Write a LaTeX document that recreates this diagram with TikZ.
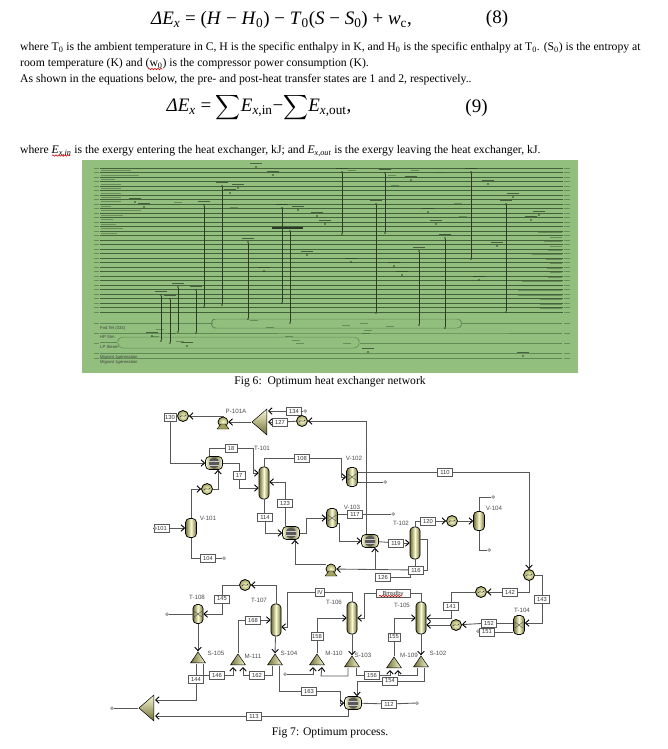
\documentclass[tikz,border=0pt]{standalone}
\usepackage{amsmath}
\usepackage{fontspec}
\setmainfont{Liberation Serif}
\newfontfamily\flowfont{Liberation Sans}
\usepackage{tikz}
\usetikzlibrary{calc,positioning,arrows.meta,shapes.geometric,decorations.pathmorphing}
\definecolor{panelgreen}{HTML}{93BF7E}
\definecolor{rowgreen}{HTML}{35502F}
\definecolor{bundlegreen}{HTML}{5E8A55}
\definecolor{linkdark}{HTML}{2C3A28}
\definecolor{flowgray}{HTML}{585858}
\definecolor{olivedark}{HTML}{6F6F35}
\definecolor{olivemid}{HTML}{A3A35C}
\definecolor{olivepale}{HTML}{FBFBD6}
\tikzset{
	bodytext/.style={anchor=west,inner sep=0pt,font=\fontsize{11.7}{13}\selectfont},
	eqtext/.style={inner sep=0pt,font=\fontsize{19}{21}\selectfont},
	caption/.style={inner sep=0pt,font=\fontsize{11.6}{13}\selectfont},
	squiggle/.style={red!85!black,line width=.6pt,decorate,decoration={snake,amplitude=.7pt,segment length=3pt}},
	rowline/.style={rowgreen,line width=.55pt,opacity=.85},
	bundle/.style={bundlegreen,line width=.5pt,rounded corners=3pt},
	hxlink/.style={linkdark,line width=.75pt},
	hxdot/.style={circle,fill=linkdark,inner sep=0pt,minimum size=1.8pt},
	tagmark/.style={linkdark,line width=1pt,opacity=.7},
	faintmark/.style={rowgreen,line width=1pt,opacity=.45},
	nettext/.style={inner sep=0pt,anchor=west,text=black!75,font=\flowfont\fontsize{4.2}{5}\selectfont},
	flowline/.style={flowgray,line width=.85pt},
	flow/.style={flowline,-{Straight Barb[length=3.5pt,width=6.5pt,line width=.9pt,black]}},
	streambox/.style={draw=flowgray,fill=white,line width=.7pt,inner sep=0pt,minimum width=15pt,minimum height=8pt,text=black!80,font=\flowfont\fontsize{5.8}{6}\selectfont},
	unitname/.style={inner sep=0pt,text=black!70,font=\flowfont\fontsize{6.2}{7}\selectfont},
	streamend/.style={diamond,draw=flowgray,fill=white,line width=.5pt,inner sep=0pt,minimum size=3pt},
	column/.style={rectangle,rounded corners=4pt,draw=black,line width=.7pt,left color=olivedark,right color=olivedark,middle color=olivepale,minimum width=10pt,minimum height=32pt,inner sep=0pt},
	drum/.style={column,minimum width=11pt,minimum height=19pt},
	crossdrum/.style={column,minimum width=11pt,minimum height=19pt,path picture={
		\draw[black!70,line width=.4pt] ($(path picture bounding box.center)+(-4,-3)$) -- ($(path picture bounding box.center)+(4,3)$);
		\draw[black!70,line width=.4pt] ($(path picture bounding box.center)+(-4,3)$) -- ($(path picture bounding box.center)+(4,-3)$);}},
	heater/.style={circle,draw=black,line width=.8pt,inner color=olivepale,outer color=olivemid,minimum size=11pt,inner sep=0pt,path picture={
		\draw[black!80,line width=.5pt] ($(path picture bounding box.center)+(-3,1)$) to[bend left=50] (path picture bounding box.center) to[bend right=50] ($(path picture bounding box.center)+(3,-1)$);}},
	exchanger/.style={rectangle,rounded corners=4pt,draw=black,line width=.7pt,left color=olivepale,right color=olivepale,middle color=olivedark,minimum width=17pt,minimum height=13pt,inner sep=0pt,path picture={
		\fill[black!65] ($(path picture bounding box.center)+(-5,-5)$) rectangle ($(path picture bounding box.center)+(5,5)$);
		\draw[black!20,line width=.5pt] ($(path picture bounding box.center)+(-5,-2)$) -- ($(path picture bounding box.center)+(5,-2)$);
		\draw[black!20,line width=.5pt] ($(path picture bounding box.center)+(-5,2)$) -- ($(path picture bounding box.center)+(5,2)$);}},
	pumpbody/.style={circle,draw=black,line width=.7pt,inner color=olivepale,outer color=olivemid,minimum size=10pt,inner sep=0pt},
	splitter/.style={isosceles triangle,isosceles triangle stretches,shape border rotate=90,draw=black,line width=.5pt,left color=olivedark,right color=olivepale,minimum width=15pt,minimum height=11pt,inner sep=0pt},
	bigmixer/.style={isosceles triangle,isosceles triangle stretches,shape border rotate=180,draw=black,line width=.5pt,top color=olivepale,bottom color=olivedark,minimum width=26pt,minimum height=15pt,inner sep=0pt}
}
\newcommand{\pumpfoot}[1]{\filldraw[draw=black,fill=olivemid,line width=.4pt] ($(#1)+(-6,7)$) -- ($(#1)+(6,7)$) -- ($(#1)+(2,2)$) -- ($(#1)+(-2,2)$) -- cycle;}
\newcommand{\bigsum}{\smash{\fontsize{16}{16}\selectfont$\displaystyle\sum$}}
\begin{document}
\begin{tikzpicture}[x=1pt,y=-1pt]
	\useasboundingbox (0,0) rectangle (667,749);

	\node[eqtext] (eqeight) at (281.5,20) {\textit{ΔE}\textsubscript{\textit{x}} = (\textit{H} − \textit{H}\textsubscript{0}) − \textit{T}\textsubscript{0}(\textit{S} − \textit{S}\textsubscript{0}) + \textit{w}\textsubscript{c},};
	\node[eqtext] (numeight) at (497,19) {(8)};
	\node[bodytext] (lineone) at (20,47.5) {where T\textsubscript{0} is the ambient temperature in C, H is the specific enthalpy in K, and H\textsubscript{0} is the specific enthalpy at T\textsubscript{0}. (S\textsubscript{0}) is the entropy at};
	\node[bodytext] (linetwo) at (20,63.5) {room temperature (K) and (w\textsubscript{0}) is the compressor power consumption (K).};
	\node[bodytext] (linethree) at (20,80) {As shown in the equations below, the pre- and post-heat transfer states are 1 and 2, respectively..};
	\node[eqtext] (eqnine) at (259,108) {\textit{ΔE}\textsubscript{\textit{x}} = \bigsum\textit{E}\textsubscript{\textit{x},in}−\bigsum\textit{E}\textsubscript{\textit{x},out},};
	\node[eqtext] (numnine) at (476.5,108) {(9)};
	\node[bodytext] (linefour) at (20,151) {where \textit{E\textsubscript{x,in}} is the exergy entering the heat exchanger, kJ; and \textit{E\textsubscript{x,out}} is the exergy leaving the heat exchanger, kJ.};
	\coordinate (wavea) at (148,69);
	\coordinate (waveb) at (162,69);
	\coordinate (wavec) at (52,155.5);
	\coordinate (waved) at (70,155.5);
	\draw[squiggle] (wavea) -- (waveb);
	\draw[squiggle] (wavec) -- (waved);

	\fill[panelgreen] (82,160) rectangle (578,373);
	\foreach \y in {168,172.5,...,316} {
		\draw[rowline] (100,\y) -- (563,\y);
		\draw[faintmark] (94,\y) -- (99,\y);
		\draw[faintmark] (564,\y) -- (570,\y);
	}
	\foreach \y/\w in {171/30,176/38,180/14,185/20,189/20,194/20,198/20,202/20,207/10,211/40,216/22,220/12,225/15,229/22,234/16}
		\draw[faintmark] (101,\y-1) -- (101+\w,\y-1);
	\foreach \y/\w in {233/24,238/12,242/18,247/12,251/14,255/30,260/16,264/12,269/15,273/12,278/14,282/40,286/44,291/44,296/44,300/22,305/22,309/22}
		\draw[faintmark] (562-\w,\y-1) -- (562,\y-1);
	\foreach \y in {323,333,343,353,358} {
		\draw[faintmark] (94,\y) -- (99,\y);
		\draw[faintmark] (564,\y) -- (570,\y);
	}
	\draw[bundle] (100,323) -- (213,323);
	\draw[bundle] (216,319) -- (213,319) -- (211,323.5) -- (213,328) -- (216,328) -- (460,328) -- (462,323.5) -- (460,319) -- cycle;
	\draw[bundle] (462,323.5) -- (562,323.5);
	\draw[bundle] (100,333) -- (455,333) -- (562,333);
	\draw[bundle] (100,342) -- (117,342);
	\draw[bundle] (120,337) -- (117,342) -- (120,348) -- (357,348) -- (360,342) -- (357,337) -- cycle;
	\draw[bundle] (360,343) -- (562,343);
	\draw[bundle] (100,353) -- (562,353);
	\draw[bundle] (100,358) -- (562,358);
	\node[nettext] (netfnd) at (100,328) {Fnd Tet (333)};
	\node[nettext] (nethp) at (100,337) {HP Stm};
	\node[nettext] (netlp) at (100,347) {LP Steam};
	\node[nettext] (netmiga) at (100,357) {Migrant 1generation};
	\node[nettext] (netmigb) at (100,362) {Migrant 1generation};
	\foreach \x/\a/\b [count=\i] in {161/295/341,170/299/343,178/287/332,196/290/333,204/205/307,222/186/305,248/242/319,282/208/303,290/231/323,342/172/234,385/173/233,376/204/313,419/251/325,445/238/328,471/172/259,506/204/312} {
		\node[hxdot] (hxtop\i) at (\x,\a) {};
		\node[hxdot] (hxbot\i) at (\x,\b) {};
		\draw[hxlink] (hxtop\i) -- (hxbot\i);
		\draw[tagmark] (\x-6,\a-4) -- (\x+6,\a-4);
	}
	\foreach \x/\y [count=\i] in {256/167,273/175,238/188,230/193,135/202,144/207,298/210,264/271,187/346,152/336,411/180,488/184,513/197,428/212,539/215,531/220,317/216,325/224,436/224,497/246,307/255,351/262,394/266,402/275,479/280,368/352,523/356} {
		\node[hxdot] (tag\i) at (\x,\y) {};
		\draw[tagmark] (\x-6,\y-4) -- (\x+6,\y-4);
	}
	\foreach \x/\y in {178/202,234/207,352/170,392/175,415/170,439/172,395/185,160/329,172/333,254/320,270/327,155/336,180/341,289/336,296/340,300/343,347/343,346/325,364/323,390/326,366/333,368/330,458/203,463/216}
		\draw[faintmark] (\x-4,\y) -- (\x+4,\y);
	\draw[linkdark,line width=2pt] (272,228) -- (303,228);

	\node[caption] (capsix) at (330,382) {Fig 6:\ \ Optimum heat exchanger network};

	\node[heater] (E130) at (183,416) {};
	\node[streambox,minimum width=12pt] (s130) at (170,417) {130};
	\node[pumpbody] (P101A) at (223,422) {};
	\pumpfoot{P101A}
	\node[unitname] (nameP) at (236,411) {P-101A};
	\node[bigmixer] (M1) at (261,422) {};
	\node[streambox] (s134) at (294,411) {134};
	\node[streamend] (end134) at (305,411) {};
	\node[streambox] (s127) at (280,422) {127};
	\node[heater] (E127) at (302,421) {};
	\node[exchanger] (HX1) at (214,463) {};
	\node[streambox,minimum width=12pt] (s18) at (231,448) {18};
	\node[unitname] (nameT101) at (262,448) {T-101};
	\node[column] (T101) at (264,483) {};
	\node[streambox] (s108) at (302,458) {108};
	\node[crossdrum] (V102) at (352,477) {};
	\node[unitname] (nameV102) at (354,458) {V-102};
	\node[streambox,minimum width=12pt] (s17) at (239,475) {17};
	\node[heater] (E101) at (207,489) {};
	\node[drum] (V101) at (191,528) {};
	\node[unitname] (nameV101) at (208,518) {V-101};
	\node[streambox] (s101) at (162,528) {101};
	\node[streamend] (end101) at (155,528) {};
	\node[streambox] (s104) at (208,558) {104};
	\node[streamend] (end104) at (224,558) {};
	\node[streambox] (s123) at (285,503) {123};
	\node[streambox] (s114) at (265,517) {114};
	\node[exchanger] (HX2) at (291,533) {};
	\node[crossdrum] (V103) at (332,518) {};
	\node[unitname] (nameV103) at (352,507) {V-103};
	\node[streambox] (s117) at (355,514) {117};
	\node[streamend] (end117) at (393,514) {};
	\node[pumpbody] (P102) at (331,569) {};
	\pumpfoot{P102}
	\node[exchanger] (HX3) at (370,541) {};
	\node[streambox] (s119) at (396,543) {119};
	\node[column] (T102) at (415,543) {};
	\node[unitname] (nameT102) at (401,523) {T-102};
	\node[streambox] (s120) at (428,521) {120};
	\node[heater] (E120) at (452,521) {};
	\node[drum] (V104) at (479,521) {};
	\node[unitname] (nameV104) at (494,508) {V-104};
	\node[streamend] (end104a) at (493,497) {};
	\node[streamend] (end104b) at (489,550) {};
	\node[streambox] (s110) at (445,472) {110};
	\node[streamend] (end102) at (385,482) {};
	\node[streambox] (s116) at (416,570) {116};
	\node[streambox] (s126) at (383,577) {126};
	\node[heater] (E143) at (529,575) {};
	\node[streambox] (s143) at (542,599) {143};
	\node[streambox] (s142) at (510,592) {142};
	\node[heater] (E142) at (481,592) {};
	\node[streambox] (s141) at (451,606) {141};
	\node[crossdrum] (T104) at (519,625) {};
	\node[unitname] (nameT104) at (522,610) {T-104};
	\node[column] (T105) at (421,618) {};
	\node[unitname] (nameT105) at (402,605) {T-105};
	\node[heater] (E152) at (456,625) {};
	\node[streambox] (s152) at (489,623) {152};
	\node[streambox] (s151) at (487,632) {151};
	\node[streamend] (end151) at (478,631) {};
	\node[column] (T106) at (352,618) {};
	\node[unitname] (nameT106) at (334,602) {T-106};
	\node[streambox,minimum width=34pt] (sbyp) at (393,593) {Bmsdbv};
	\coordinate (wavee) at (379,596);
	\coordinate (wavef) at (402,596);
	\draw[squiggle] (wavee) -- (wavef);
	\node[streambox,minimum width=9pt] (sIV) at (320,592) {IV};
	\node[column] (T107) at (276,620) {};
	\node[unitname] (nameT107) at (259,600) {T-107};
	\node[heater] (E145) at (245,585) {};
	\node[streambox] (s145) at (222,599) {145};
	\node[crossdrum,minimum width=10pt] (T108) at (198,614) {};
	\node[unitname] (nameT108) at (197,597) {T-108};
	\node[streamend] (end108) at (167,614) {};
	\node[splitter] (S105) at (198,659) {};
	\node[unitname] (nameS105) at (216,653) {S-105};
	\node[streambox] (s168) at (253,620) {168};
	\node[splitter] (M111) at (238,661) {};
	\node[unitname] (nameM111) at (253,656) {M-111};
	\node[splitter] (S104) at (275,661) {};
	\node[unitname] (nameS104) at (289,653) {S-104};
	\node[streambox] (s146) at (217,675) {146};
	\node[streambox] (s144) at (196,679) {144};
	\node[streambox] (s162) at (257,675) {162};
	\node[streambox] (s163) at (309,691) {163};
	\node[streambox] (s113) at (254,716) {113};
	\node[bigmixer] (M2) at (148,708) {};
	\node[streamend] (end2) at (112,708) {};
	\node[exchanger] (HX4) at (353,703) {};
	\node[streambox] (s112) at (389,704) {112};
	\node[streamend] (end112) at (417,703) {};
	\node[streambox,minimum width=12pt] (s158) at (317,636) {158};
	\node[splitter] (M110) at (317,661) {};
	\node[unitname] (nameM110) at (334,653) {M-110};
	\node[splitter] (S103) at (352,663) {};
	\node[unitname] (nameS103) at (363,655) {S-103};
	\node[streamend] (end110) at (285,674) {};
	\node[streambox] (s156) at (372,675) {156};
	\node[streambox,minimum width=12pt] (s155) at (394,637) {155};
	\node[splitter] (M109) at (394,664) {};
	\node[unitname] (nameM109) at (409,655) {M-109};
	\node[splitter] (S102) at (421,663) {};
	\node[unitname] (nameS102) at (438,653) {S-102};
	\node[streambox] (s154) at (390,681) {154};

	\draw[flow] (P101A.north) |- (E130);
	\draw[flow] (M1) -- (P101A);
	\draw[flow] (s134) -- ($(M1)+(7,-11)$);
	\draw[flowline] (s134) -- (end134);
	\draw[flow] (s127) -- ($(M1)+(7,0)$);
	\draw[flowline] (E127) -- (s127);
	\draw[flow] ($(HX3.north)+(-4,0)$) |- (E127);
	\draw[flow] (s130) |- (HX1);
	\draw[flowline] ($(HX1.north)+(-5,0)$) |- (s18);
	\draw[flow] (s18) -- (253,448) |- ($(T101.west)+(0,-10)$);
	\draw[flowline] (HX1) -| (s17);
	\draw[flow] (s17) |- ($(T101.west)+(0,5)$);
	\draw[flow] (E101) -| ($(HX1.south)+(4,0)$);
	\draw[flow] (V101.north) |- (E101);
	\draw[flow] (s101) -- (V101);
	\draw[flowline] (end101) -- (s101);
	\draw[flowline] (V101.south) |- (s104);
	\draw[flowline] (s104) -- (end104);
	\draw[flowline] (T101.north) |- (s108);
	\draw[flow] (s108) -- (341,458) |- (V102);
	\draw[flowline] (s123) -- (s123 |- HX2.north);
	\draw[flow] (s123) |- ($(T101.east)+(0,-1)$);
	\draw[flowline] (T101.south) -- (T101.south |- s114.north);
	\draw[flow] (s114) |- (HX2);
	\draw[flow] (HX2) -- (306,533) |- (V103);
	\draw[flowline] ($(V103.east)+(0,-4)$) -- (s117);
	\draw[flowline] (s117) -- (end117);
	\draw[flow] ($(V103.east)+(0,5)$) -- ++(2,0) |- (HX3);
	\draw[flowline] (HX3) -- (s119);
	\draw[flow] (s119) -- (T102);
	\draw[flowline] (T102.north) |- (s120);
	\draw[flow] (s120) -- (E120);
	\draw[flow] (E120) -- (V104);
	\draw[flowline] (V104.north) |- (end104a);
	\draw[flowline] (V104.south) |- (end104b);
	\draw[flowline] (T102.south) -- (T102.south |- s116.north);
	\draw[flowline] ($(T102.east)+(0,-4)$) -- (427,539) |- (s116);
	\draw[flow] (s116) -- (P102);
	\draw[flow] ($(P102)+(-5,-5)$) -| ($(HX2.south)+(4,0)$);
	\coordinate (tee116) at (375,569);
	\draw[flow] (tee116) -- ($(HX3.south)+(5,0)$);
	\draw[flowline] (s126) -| ($(s116.south west)+(2,0)$);
	\draw[flowline] ($(V102.east)+(0,-5)$) -- (s110);
	\draw[flow] (s110) -| (E143);
	\draw[flowline] ($(V102.east)+(0,5)$) -- (end102);
	\draw[flowline] (E143) -| (s143);
	\draw[flow] (s143) |- ($(T104.east)+(0,-2)$);
	\draw[flowline] (E143) |- (s142);
	\draw[flow] (s142) -- (E142);
	\draw[flowline] (E142) -| (s141);
	\draw[flow] (s141) |- (T105.east);
	\draw[flow] (E152) -- ($(T105.east)+(0,7)$);
	\draw[flow] (s152) -- (E152);
	\draw[flowline] ($(T104.west)+(0,-2)$) -- (s152);
	\draw[flowline] ($(T104.west)+(0,7)$) -- (s151);
	\draw[flowline] (s151) -- (end151);
	\draw[flowline] (T105.north) |- (sbyp);
	\draw[flow] (sbyp) -- (364,593) |- (T106.east);
	\draw[flowline] (T106.north) |- (sIV);
	\draw[flow] (sIV) -- (287,592) |- ($(T107.east)+(0,7)$);
	\draw[flow] (T107.north) |- (E145);
	\draw[flowline] (E145) -| (s145);
	\draw[flow] (s145) |- (T108);
	\draw[flowline] (T108) -- (end108);
	\draw[flow] (T108) -- (S105.apex);
	\draw[flow] (s168) -- (T107.west);
	\draw[flowline] (M111.apex) |- (s168);
	\draw[flow] (T107) -- (S104.apex);
	\draw[flowline] ($(S105)+(5,5)$) |- (s146);
	\draw[flow] (s146) -| ($(M111)+(-5,6)$);
	\draw[flowline] ($(S105)+(-2,5)$) -- (s144);
	\draw[flow] (s144) |- ($(M2)+(7,-8)$);
	\draw[flowline] ($(S104)+(-3,5)$) |- (s162);
	\draw[flow] (s162) -| ($(M111)+(5,6)$);
	\draw[flowline] ($(S104)+(4,5)$) |- (s163);
	\draw[flow] (s163) -- (340,691) |- (HX4);
	\draw[flowline] (HX4) -- (s112);
	\draw[flowline] (s112) -- (end112);
	\draw[flowline] ($(HX4.south)+(-5,0)$) |- (s113);
	\draw[flow] (s113) -- ($(M2)+(7,8)$);
	\draw[flowline] (M2) -- (end2);
	\draw[flowline] (M110.apex) -- (s158);
	\draw[flow] (s158) |- (T106.west);
	\draw[flow] (T106) -- (S103.apex);
	\draw[flow] (end110) -| ($(M110)+(-4,6)$);
	\draw[flow] ($(S103)+(-4,5)$) |- ++(-27,8) -- ($(M110)+(5,6)$);
	\draw[flowline] ($(S103)+(4,5)$) |- (s156);
	\draw[flow] (s156) -| ($(M109)+(-4,6)$);
	\draw[flowline] (M109.apex) -- (s155);
	\draw[flow] (s155) |- (T105.west);
	\draw[flow] (T105) -- (S102.apex);
	\draw[flow] ($(S102)+(-4,5)$) |- ++(-19,7) -- ($(M109)+(4,6)$);
	\draw[flowline] ($(S102)+(3,5)$) |- (s154);
	\draw[flow] (s154) -| ($(HX4.north)+(4,0)$);

	\node[caption] (capseven) at (330,733) {Fig 7: Optimum process.};
\end{tikzpicture}
\end{document}
